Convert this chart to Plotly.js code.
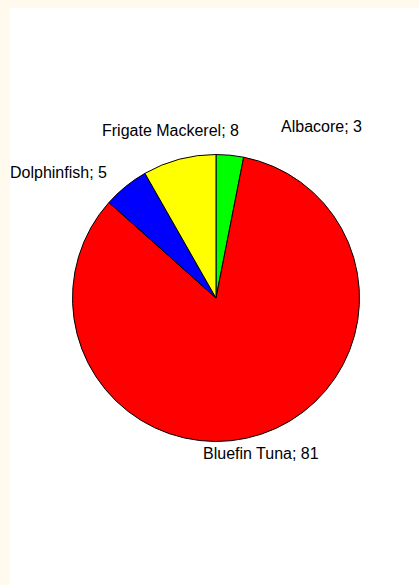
<!DOCTYPE html>
<html><head><meta charset="utf-8">
<script src="https://cdn.plot.ly/plotly-3.0.1.min.js"></script>
<style>
html,body{margin:0;padding:0;background:#FFF9EE;width:419px;height:585px;overflow:hidden;}
#chart{position:absolute;left:10px;top:8px;width:409px;height:577px;background:#fff;}
</style></head>
<body><div id="chart"></div>
<script>
const species = ["Albacore", "Bluefin Tuna", "Dolphinfish", "Frigate Mackerel"];
const counts = [3, 81, 5, 8];
const sliceColors = ["#00FF00", "#FF0000", "#0000FF", "#FFFF00"];

// layout settings (not data)
const W = 409, H = 577;
const pieDomain = {x: [0.1528, 0.8545], y: [0.2487, 0.7461]};
const labelRadius = 1.2;               // multiple of the pie radius
const labelNudge = [[89, 0], [-10, 8], [-49, -8], [-1, 1]]; // px, to avoid overlaps
const fontFam = "Liberation Sans, Arial, sans-serif";

const cx = (pieDomain.x[0] + pieDomain.x[1]) / 2;
const cy = (pieDomain.y[0] + pieDomain.y[1]) / 2;
const R = Math.min((pieDomain.x[1] - pieDomain.x[0]) * W, (pieDomain.y[1] - pieDomain.y[0]) * H) / 2;
const total = counts.reduce((a, b) => a + b, 0);
let cum = 0;
const annotations = species.map((name, i) => {
  const theta = 2 * Math.PI * (cum + counts[i] / 2) / total;
  cum += counts[i];
  return {
    xref: "paper", yref: "paper",
    x: cx + labelRadius * R * Math.sin(theta) / W,
    y: cy + labelRadius * R * Math.cos(theta) / H,
    xshift: labelNudge[i][0], yshift: labelNudge[i][1],
    xanchor: "center", yanchor: "middle",
    text: name + "; " + counts[i],
    showarrow: false,
    font: {family: fontFam, size: 16, color: "#000"}
  };
});

Plotly.newPlot("chart", [{
  type: "pie",
  labels: species,
  values: counts,
  sort: false,
  direction: "clockwise",
  rotation: 0,
  marker: {colors: sliceColors, line: {color: "#000", width: 1}},
  textinfo: "none",
  hoverinfo: "label+value",
  domain: pieDomain
}], {
  width: W, height: H,
  margin: {l: 0, r: 0, t: 0, b: 0},
  paper_bgcolor: "#fff",
  showlegend: false,
  annotations: annotations,
  font: {family: fontFam, size: 16, color: "#000"}
}, {displayModeBar: false, staticPlot: true});
</script></body></html>
